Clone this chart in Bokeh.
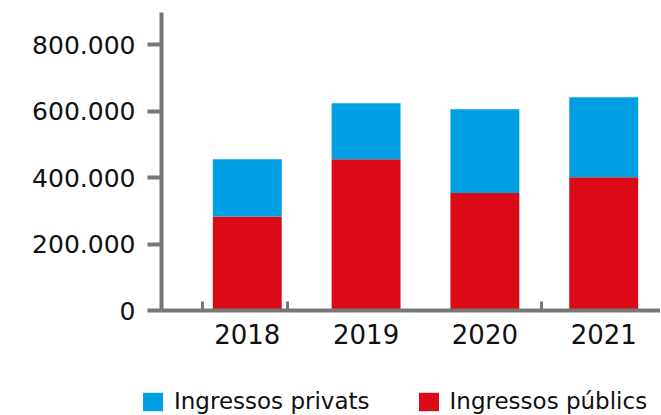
from bokeh.plotting import figure
from bokeh.layouts import column
from bokeh.models import ColumnDataSource, Range1d, FixedTicker, Legend, LegendItem
from bokeh.embed import file_html
from bokeh.resources import INLINE

# ---- data ----
years = [2018, 2019, 2020, 2021]
publics = [283000, 455000, 354000, 401000]
privats = [172000, 169000, 252000, 241000]
y_ticks = [0, 200000, 400000, 600000, 800000]
y_tick_labels = ["0", "200.000", "400.000", "600.000", "800.000"]
series_names = ["Ingressos privats", "Ingressos públics"]
x_minor_marks = [2017.621, 2018.339, 2020.477]

BLUE = "#009FE3"
RED = "#DA0A16"
GRAY = "#777777"
FONT = "DejaVu Sans"

source = ColumnDataSource(dict(years=years, publics=publics, privats=privats))

p = figure(width=660, height=370, output_backend="svg", toolbar_location=None,
           x_range=Range1d(2017.278, 2021.478), y_range=Range1d(0, 897000),
           min_border_left=161, min_border_top=12, min_border_right=0,
           min_border_bottom=60)
p.frame_align = False
p.outline_line_color = None
p.xgrid.visible = False
p.ygrid.visible = False

p.vbar_stack(["publics", "privats"], x="years", width=0.58, source=source,
             color=[RED, BLUE], line_color=None)

# y axis
yax = p.yaxis[0]
yax.ticker = FixedTicker(ticks=y_ticks)
yax.major_label_overrides = {t: l for t, l in zip(y_ticks, y_tick_labels)}
yax.axis_line_color = GRAY
yax.axis_line_width = 4
yax.major_tick_line_color = GRAY
yax.major_tick_line_width = 4
yax.major_tick_out = 14
yax.major_tick_in = 0
yax.minor_tick_line_color = None
yax.major_label_text_font = FONT
yax.major_label_text_font_size = "25px"
yax.major_label_text_color = "#111111"
yax.major_label_standoff = 12

# x axis
xax = p.xaxis[0]
xax.ticker = FixedTicker(ticks=years, minor_ticks=x_minor_marks)
xax.major_label_overrides = {y: str(y) for y in years}
xax.axis_line_color = GRAY
xax.axis_line_width = 4
xax.major_tick_line_color = None
xax.major_tick_out = 0
xax.major_tick_in = 0
xax.minor_tick_line_color = GRAY
xax.minor_tick_line_width = 3
xax.minor_tick_in = 9
xax.minor_tick_out = 0
xax.major_label_text_font = FONT
xax.major_label_text_font_size = "26px"
xax.major_label_text_color = "#111111"
xax.major_label_standoff = 13

# legend strip below the chart (its own bars lie outside its visible range)
p2 = figure(width=660, height=44, output_backend="svg", toolbar_location=None,
            x_range=Range1d(0, 1), y_range=Range1d(0, 1),
            x_axis_location=None, y_axis_location=None,
            min_border_left=0, min_border_right=0, min_border_top=0,
            min_border_bottom=0)
p2.frame_align = False
p2.outline_line_color = None
p2.xgrid.visible = False
p2.ygrid.visible = False
r = p2.vbar_stack(["publics", "privats"], x="years", width=0.58, source=source,
                  color=[RED, BLUE], line_color=None)

legend = Legend(items=[LegendItem(label=series_names[0], renderers=[r[1]]),
                       LegendItem(label=series_names[1], renderers=[r[0]])],
                location=(140, 0), orientation="horizontal",
                padding=0, margin=0, spacing=46,
                glyph_width=25, glyph_height=23, label_standoff=9,
                label_text_font=FONT, label_text_font_size="23px",
                label_text_color="#111111",
                border_line_alpha=0, background_fill_alpha=0)
p2.add_layout(legend, "center")

open("out.html", "w").write(file_html(column(p, p2, spacing=0), INLINE))
